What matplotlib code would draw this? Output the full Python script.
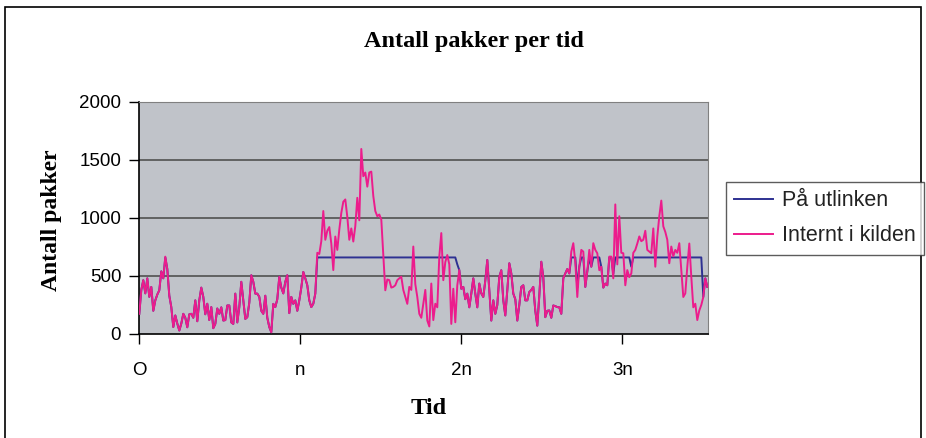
import matplotlib
matplotlib.use('Agg')
import matplotlib.pyplot as plt
import numpy as np
from matplotlib.patches import Rectangle

# packets per sample (one sample every ~2 px)
internt = [174, 380, 464, 350, 480, 320, 406, 200, 290, 340, 377, 540, 480, 667, 560,
           330, 232, 60, 160, 90, 30, 90, 174, 140, 58, 170, 174, 140, 290, 110,
           290, 400, 320, 170, 261, 120, 232, 50, 87, 220, 174, 230, 116, 120, 246, 246,
           100, 87, 348, 100, 232, 450, 290, 130, 145, 270, 507, 450, 348, 348, 320,
           200, 174, 330, 140, 60, 15, 260, 232, 300, 493, 400, 350, 450, 507, 180,
           320, 260, 290, 200, 290, 400, 535, 480, 420, 290, 232, 261, 348, 700, 690,
           800, 1060,
           812, 890, 922, 780, 551, 840, 725, 900, 1044, 1140, 1160, 1010, 812, 910, 797,
           930, 1174, 980, 1595, 1360, 1392, 1270, 1392, 1400, 1189, 1060, 1015, 1030, 986, 680,
           377, 470, 464, 400, 406, 420, 464, 480, 493, 380, 319, 260, 406, 380, 754,
           430, 319,
           174, 140, 261, 380, 116, 65, 435, 120, 261, 230, 667, 870, 464, 620, 681,
           600, 87, 390, 101, 420, 551, 390, 406, 300, 348, 230, 348, 480, 348, 230,
           435, 350, 319, 460, 638, 380, 116, 290, 174, 250, 493, 550, 290, 160, 377,
           610, 522,
           348, 300, 116, 250, 406, 420, 290, 290, 362, 380, 406, 200, 72, 330, 623,
           490, 145, 200, 203, 140, 246, 240, 232, 230, 174, 480, 522, 560, 522, 710,
           783, 620, 319, 580, 725, 710, 406, 540, 725, 580, 783, 725, 696, 550, 580,
           400, 435, 420, 667,
           667, 480, 1117, 600, 1015, 700, 696, 420, 551, 490, 522, 700, 725, 780, 841,
           800, 812, 890, 725, 710, 696, 910, 580, 840, 1015, 1150, 928, 880, 812, 610,
           754, 670, 725, 700, 783, 550, 319, 350, 580, 780, 493, 230, 261, 120, 203,
           250, 319, 480, 406]

utlinken = ([174, 380, 464, 350, 480, 320, 406, 200, 290, 340, 377, 540, 480, 660, 560,
             330, 232, 60, 160, 90, 30, 90, 174, 140, 58, 170, 174, 140, 290, 110,
             290, 400, 320, 170, 261, 120, 232, 50, 87, 220, 174, 230, 116, 120, 246, 246,
             100, 87, 348, 100, 232, 450, 290, 130, 145, 270, 507, 450, 348, 348, 320,
             200, 174, 330, 140, 60, 15, 260, 232, 300, 493, 400, 350, 450, 507, 180,
             320, 260, 290, 200, 290, 400, 535, 480, 420, 290, 232, 261, 348, 660, 660,
             660, 660]
            + [660] * 47
            + [660] * 19
            + [600, 551, 390, 406, 300, 348, 230, 348, 480, 348, 230,
               435, 350, 319, 460, 638, 380, 116, 290, 174, 250, 493, 550, 290, 160, 377,
               610, 522]
            + [348, 300, 116, 250, 406, 420, 290, 290, 362, 380, 406, 200, 72, 330, 623,
               490, 145, 200, 203, 140, 246, 240, 232, 230, 174, 480, 522, 560, 522, 660,
               660, 660, 400, 580, 660, 660, 406, 540, 660, 580, 660, 660, 660, 660, 580,
               400, 435, 420, 660]
            + [660, 520] + [660] * 8 + [580] + [660] * 35 + [319, 480, 406])

samples_per_n = 80.5
x_ticks = [0, 1, 2, 3]
x_labels = ['O', 'n', '2n', '3n']
y_ticks = [0, 500, 1000, 1500, 2000]

t = np.arange(len(internt)) / samples_per_n

fig = plt.figure(figsize=(9.26, 4.38), dpi=100)
ax = fig.add_axes([139.3 / 926, 1 - 334 / 438, (708.3 - 139.3) / 926, (334 - 102) / 438])
ax.set_facecolor('#c0c3c9')

for yv in y_ticks[1:]:
    ax.axhline(yv, color='#5a5a5a', lw=1.3, zorder=1)

ax.plot(t, utlinken, color='#2e3192', lw=1.4, label='På utlinken', zorder=3)
ax.plot(t, internt, color='#ec1c8c', lw=1.4, label='Internt i kilden', zorder=4)

ax.set_xlim(0, 569 / 161)
ax.set_ylim(0, 2000)
ax.set_xticks(x_ticks)
ax.set_xticklabels(x_labels)
ax.set_yticks(y_ticks)

for s in ['top', 'right']:
    ax.spines[s].set_color('#808080')
for s in ['left', 'bottom']:
    ax.spines[s].set_color('black')
    ax.spines[s].set_linewidth(1.2)

ax.tick_params(axis='y', direction='out', length=7, width=1, pad=6, labelsize=13.5)
ax.tick_params(axis='x', direction='out', length=7, width=1, pad=13, labelsize=13.5)
for lab in ax.get_xticklabels() + ax.get_yticklabels():
    lab.set_family('Liberation Sans')

fig.text(474 / 926, 1 - 42 / 438, 'Antall pakker per tid', ha='center', va='center',
         family='Liberation Serif', weight='bold', fontsize=17.5)
fig.text(52 / 926, 1 - 220 / 438, 'Antall pakker', ha='center', va='center', rotation=90,
         family='Liberation Serif', weight='bold', fontsize=17)
fig.text(429 / 926, 1 - 408 / 438, 'Tid', ha='center', va='center',
         family='Liberation Serif', weight='bold', fontsize=17.5)

leg = fig.legend(loc='upper left', bbox_to_anchor=(725.7 / 926, 1 - 181.7 / 438),
                 prop={'family': 'Liberation Sans', 'size': 15.5}, frameon=True,
                 fancybox=False, handlelength=1.8, handletextpad=0.4,
                 borderpad=0.4, labelspacing=0.65, borderaxespad=0)
leg.get_frame().set_edgecolor('#333333')
leg.get_frame().set_linewidth(1.0)
for txt in leg.get_texts():
    txt.set_color('#222222')

fig.add_artist(Rectangle((5 / 926, -0.02), (921 - 5) / 926, 1 - 7 / 438 + 0.02,
                         transform=fig.transFigure, fill=False, ec='black', lw=1.2,
                         clip_on=False))

fig.savefig('out.png', dpi=100)
